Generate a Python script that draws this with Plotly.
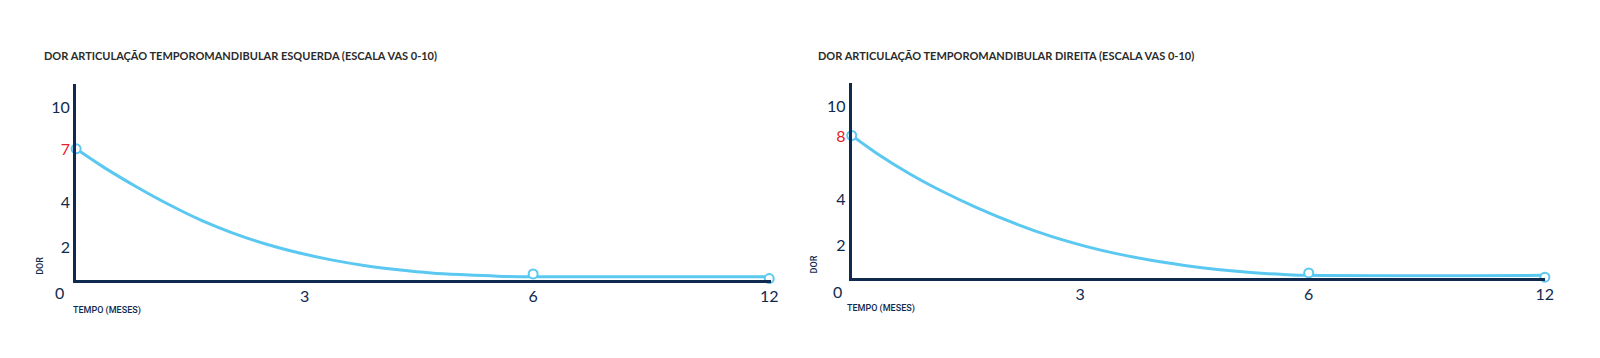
import plotly.graph_objects as go

# ---------------- data ----------------
tick_months = [3, 6, 12]
tick_month_labels = ["3", "6", "12"]

# left panel: ESQUERDA
left_curve_months = [0, 0.36, 0.79, 1.23, 1.66, 2.05, 2.49, 2.92, 3.35, 3.80, 4.23, 4.66, 5.10, 5.53, 6, 12]
left_curve_pain = [7.0, 6.02, 4.97, 3.99, 3.14, 2.50, 1.90, 1.43, 1.05, 0.74, 0.52, 0.35, 0.25, 0.18, 0.15, 0.15]
left_point_months = [0, 6, 12]
left_point_pain = [7.0, 0.3, 0.05]
left_ytick_pos = [1.77, 4.18, 7.0, 9.27]
left_ytick_labels = ["2", "4", "7", "10"]
left_highlight = "7"

# right panel: DIREITA
right_curve_months = [0, 0.33, 0.77, 1.20, 1.64, 2.18, 2.63, 3.06, 3.49, 3.93, 4.37, 4.80, 5.24, 5.67, 6, 12]
right_curve_pain = [8.0, 6.99, 5.82, 4.83, 3.94, 2.98, 2.30, 1.77, 1.33, 0.97, 0.68, 0.45, 0.28, 0.17, 0.12, 0.12]
right_point_months = [0, 6, 12]
right_point_pain = [8.0, 0.26, 0.02]
right_ytick_pos = [1.86, 4.45, 8.0, 9.69]
right_ytick_labels = ["2", "4", "8", "10"]
right_highlight = "8"

titles = ["DOR ARTICULAÇÃO TEMPOROMANDIBULAR ESQUERDA (ESCALA VAS 0-10)",
          "DOR ARTICULAÇÃO TEMPOROMANDIBULAR DIREITA (ESCALA VAS 0-10)"]

# ---------------- styling ----------------
W, H = 1600, 358
OFF = 8          # page body margin of the html page
LW = 3           # axis line width
NAVY = "#0f2a4e"
BLUE = "#5ac8f0"
RED = "#e8202a"
TITLE_C = "#2b2b2b"
TICK_FONT = dict(family="Lato", size=16, color=NAVY)


def pos(m):
    # piecewise time scale used by the chart: 0-6 months linear, 6-12 compressed
    return m if m <= 6 else 6 + (m - 6) * (3.1 / 6)


def px_x(p):
    return (p - OFF) / W


def px_y(p):
    return 1 - (p - OFF) / H


fig = go.Figure()

panels = [
    dict(cm=left_curve_months, cp=left_curve_pain, pm=left_point_months, pp=left_point_pain,
         ytp=left_ytick_pos, ytl=left_ytick_labels, hl=left_highlight,
         xdom=(76, 775), ydom=(280, 84), yunit=18.67, xs="x", ys="y"),
    dict(cm=right_curve_months, cp=right_curve_pain, pm=right_point_months, pp=right_point_pain,
         ytp=right_ytick_pos, ytl=right_ytick_labels, hl=right_highlight,
         xdom=(856, 1554), ydom=(278, 83), yunit=17.75, xs="x2", ys="y2"),
]

for i, p in enumerate(panels):
    fig.add_trace(go.Scatter(x=[pos(m) for m in p["cm"]], y=p["cp"], mode="lines",
                             line=dict(color=BLUE, width=3, shape="spline", smoothing=1.0),
                             xaxis=p["xs"], yaxis=p["ys"], cliponaxis=False,
                             hoverinfo="skip", showlegend=False))
    fig.add_trace(go.Scatter(x=[pos(m) for m in p["pm"]], y=p["pp"], mode="markers",
                             marker=dict(size=9, color="white", line=dict(color=BLUE, width=2)),
                             xaxis=p["xs"], yaxis=p["ys"], cliponaxis=False,
                             showlegend=False))

    xd0, xd1 = p["xdom"]
    yd0, yd1 = p["ydom"]
    xunit = 76.6
    # axis lines are drawn just outside the domain
    dom_x0 = xd0 + LW / 2 - 1
    dom_y0 = yd0 - LW / 2 + 1
    xr1 = (xd1 - dom_x0) / xunit
    yr1 = (dom_y0 - yd1) / p["yunit"]
    xkey = "xaxis" if i == 0 else "xaxis2"
    ykey = "yaxis" if i == 0 else "yaxis2"
    ytp = [v - (yd0 - dom_y0) / p["yunit"] for v in p["ytp"]]
    ytext = [f"<span style='color:{RED}'>{t}</span>" if t == p["hl"] else t for t in p["ytl"]]
    fig.layout[xkey] = dict(domain=[px_x(dom_x0), px_x(xd1)], range=[0, xr1], anchor=p["ys"],
                            showline=True, linecolor=NAVY, linewidth=LW, showgrid=False,
                            zeroline=False, ticks="", tickvals=[pos(m) for m in tick_months],
                            ticktext=tick_month_labels, tickfont=TICK_FONT, fixedrange=True)
    fig.layout[ykey] = dict(domain=[px_y(dom_y0), px_y(yd1)], range=[0, yr1], anchor=p["xs"],
                            showline=True, linecolor=NAVY, linewidth=LW, showgrid=False,
                            zeroline=False, ticks="", tickvals=ytp, ticktext=ytext,
                            tickfont=TICK_FONT, fixedrange=True)

annotations = []
# titles
for tx, t in zip([42, 821], titles):
    annotations.append(dict(x=px_x(tx), y=px_y(56), xref="paper", yref="paper", text=t,
                            showarrow=False, xanchor="left", yanchor="middle",
                            font=dict(family="Lato", size=11, color=TITLE_C, weight=700)))
# DOR labels
for (dx, dy) in [(40, 266), (819, 264)]:
    annotations.append(dict(x=px_x(dx), y=px_y(dy), xref="paper", yref="paper", text="DOR",
                            showarrow=False, textangle=-90, xanchor="center", yanchor="middle",
                            font=dict(family="Roboto", size=9, color=NAVY, weight=500)))
# TEMPO labels
for (tx, ty) in [(71, 310), (850, 308)]:
    annotations.append(dict(x=px_x(tx), y=px_y(ty), xref="paper", yref="paper", text="TEMPO (MESES)",
                            showarrow=False, xanchor="left", yanchor="middle",
                            font=dict(family="Roboto", size=9, color=NAVY, weight=500)))
# corner zero
for (zx, zy) in [(60, 292), (842, 291)]:
    annotations.append(dict(x=px_x(zx), y=px_y(zy), xref="paper", yref="paper", text="0",
                            showarrow=False, xanchor="center", yanchor="middle", font=TICK_FONT))

fig.update_layout(width=W, height=H, margin=dict(l=0, r=0, t=0, b=0),
                  paper_bgcolor="white", plot_bgcolor="white", annotations=annotations,
                  hovermode=False)

fig.write_html("out.html")
